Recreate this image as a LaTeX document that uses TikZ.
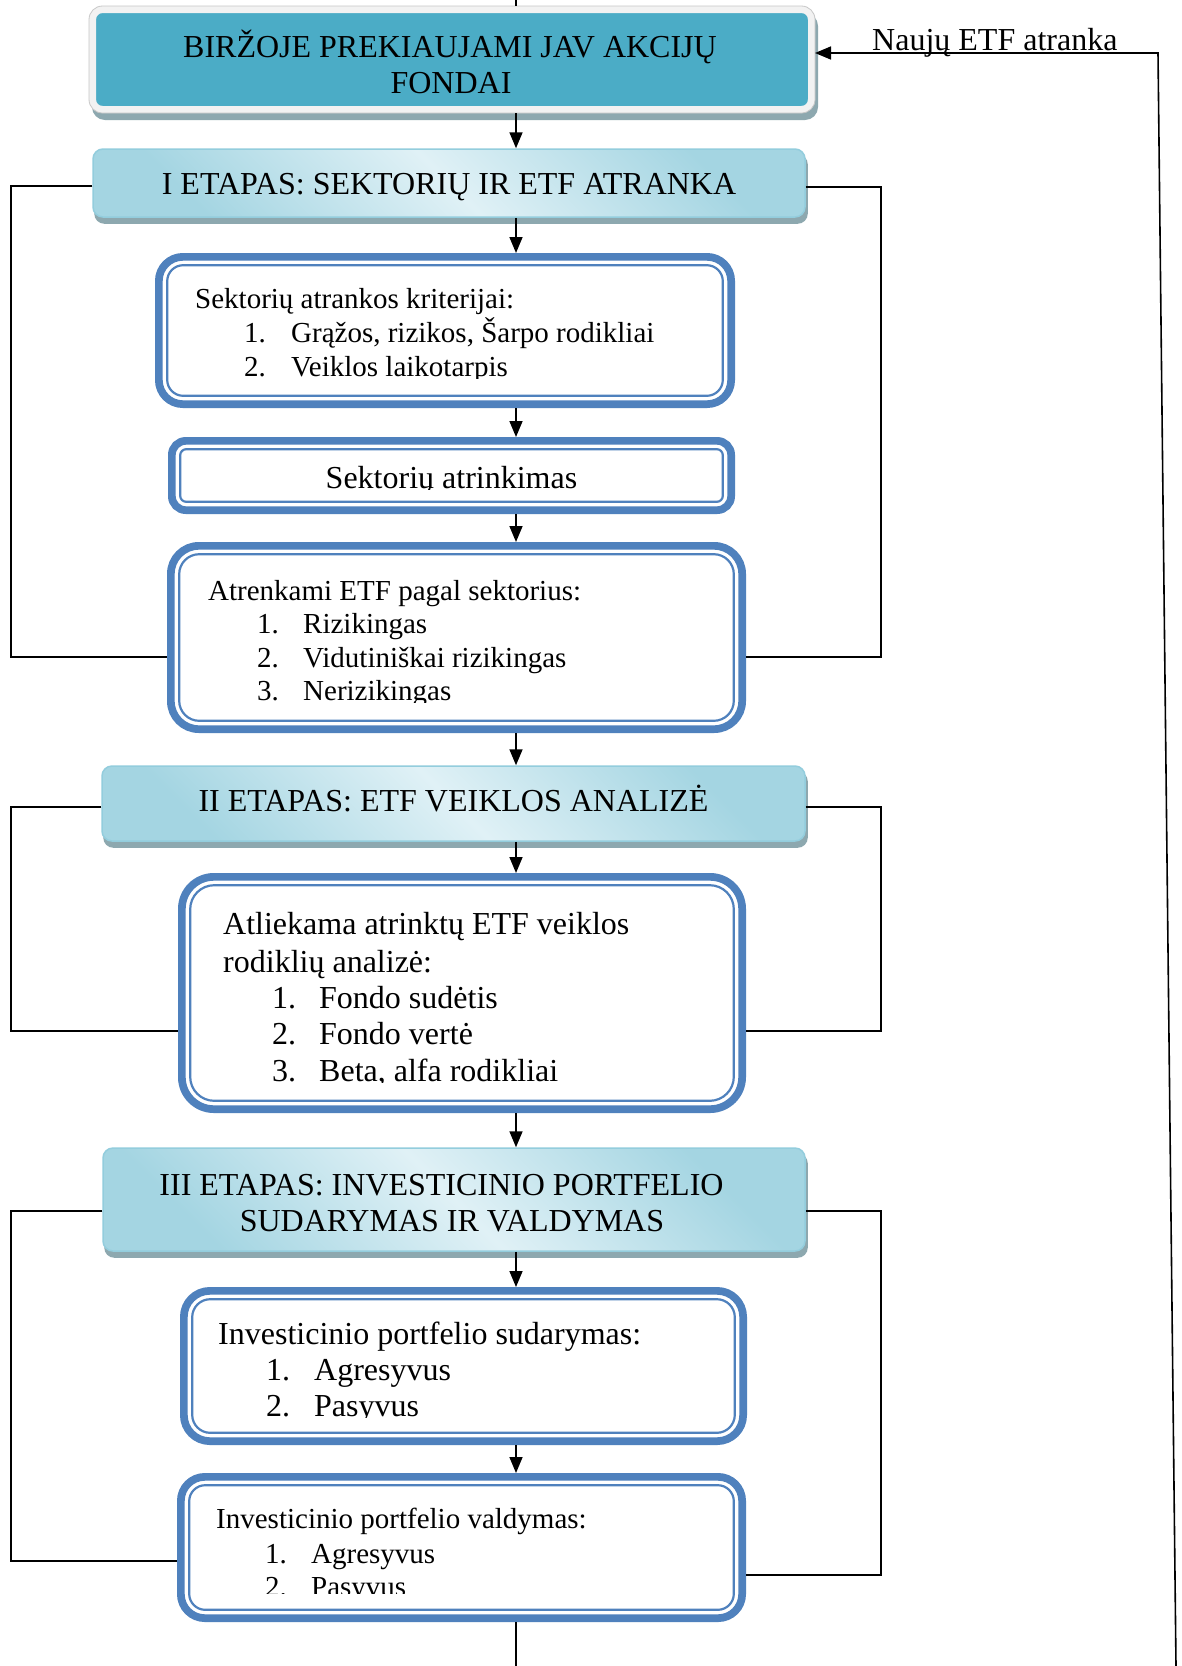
\documentclass[tikz,border=0pt]{standalone}
\usepackage{fontspec}
\setmainfont{Liberation Serif}
\usetikzlibrary{arrows.meta,backgrounds}
\definecolor{tealA}{HTML}{4BACC6}
\definecolor{lightB}{HTML}{F2F2F2}
\definecolor{shadC}{HTML}{8DA8AF}
\definecolor{stDark}{HTML}{A4D5E2}
\definecolor{stLight}{HTML}{E0F1F6}
\definecolor{stBorder}{HTML}{93CDDD}
\definecolor{dBlue}{HTML}{4F81BD}
\newcommand\fbigsz{\fontsize{32}{38}\selectfont}
\newcommand\fmidsz{\fontsize{29}{34}\selectfont}
\begin{document}
\begin{tikzpicture}[x=1pt,y=-1pt,
  conn/.style={line width=1.6pt,black},
  arr/.style={conn,-{Triangle[length=16pt,width=13pt]}},
  topbox/.style={fill=tealA,draw=lightB,line width=7pt,rounded corners=10pt,inner sep=0pt},
  stage/.style={top color=stDark,bottom color=stDark,middle color=stLight,shading angle=-45,draw=stBorder,line width=1.5pt,rounded corners=10pt,inner sep=0pt},
  dbox/.style={draw=dBlue,fill=white,line width=7.7pt,rounded corners=#1,inner sep=0pt},
  dthin/.style={draw=dBlue,line width=2.2pt,rounded corners=#1},
  txt/.style={inner sep=0pt,anchor=base west,font=\fbigsz},
  txtm/.style={inner sep=0pt,anchor=base west,font=\fmidsz},
  ctxt/.style={inner sep=0pt,anchor=base,font=\fbigsz},
  shadowbox/.style={fill=shadC,rounded corners=10pt}
]
\useasboundingbox (0,0) rectangle (1182,1666);

% boxes
\node[topbox,minimum width=719pt,minimum height=100pt] (top) at (452,59.5) {};
\draw[draw=black!22,line width=0.8pt,rounded corners=13.5pt] (top.south west) rectangle (top.north east);
\node[stage,minimum width=712pt,minimum height=68pt] (s1) at (449,183) {};
\node[stage,minimum width=703pt,minimum height=75pt] (s2) at (453.5,803.5) {};
\node[stage,minimum width=702pt,minimum height=103pt] (s3) at (454,1199.5) {};

\node[dbox=24pt,minimum width=572.3pt,minimum height=147.3pt] (b1) at (445,330.5) {};
\node[dbox=14pt,minimum width=559.3pt,minimum height=69.3pt] (b2) at (451.5,475.5) {};
\node[dbox=28pt,minimum width=571.3pt,minimum height=183.3pt] (b3) at (456.5,637.5) {};
\node[dbox=32pt,minimum width=560.3pt,minimum height=232.3pt] (b4) at (462,993) {};
\node[dbox=26pt,minimum width=559.3pt,minimum height=150.3pt] (b5) at (463.5,1366) {};
\node[dbox=24pt,minimum width=561.3pt,minimum height=141.3pt] (b6) at (461.5,1547.5) {};

\draw[dthin=16pt] ([shift={(12.2pt,-12.2pt)}]b1.north west) rectangle ([shift={(-12.2pt,12.2pt)}]b1.south east);
\draw[dthin=6pt] ([shift={(12.2pt,-12.2pt)}]b2.north west) rectangle ([shift={(-12.2pt,12.2pt)}]b2.south east);
\draw[dthin=20pt] ([shift={(12.2pt,-12.2pt)}]b3.north west) rectangle ([shift={(-12.2pt,12.2pt)}]b3.south east);
\draw[dthin=24pt] ([shift={(12.2pt,-12.2pt)}]b4.north west) rectangle ([shift={(-12.2pt,12.2pt)}]b4.south east);
\draw[dthin=18pt] ([shift={(12.2pt,-12.2pt)}]b5.north west) rectangle ([shift={(-12.2pt,12.2pt)}]b5.south east);
\draw[dthin=16pt] ([shift={(12.2pt,-12.2pt)}]b6.north west) rectangle ([shift={(-12.2pt,12.2pt)}]b6.south east);

% background and shadows
\begin{scope}[on background layer]
\fill[white] (0,0) rectangle (1182,1666);
\fill[shadowbox,rounded corners=13pt] ([shift={(3pt,-7pt)}]top.south west) rectangle ([shift={(3pt,-7pt)}]top.north east);
\fill[shadowbox] ([shift={(2pt,-6pt)}]s1.south west) rectangle ([shift={(2pt,-6pt)}]s1.north east);
\fill[shadowbox] ([shift={(2pt,-6pt)}]s2.south west) rectangle ([shift={(2pt,-6pt)}]s2.north east);
\fill[shadowbox] ([shift={(2pt,-6pt)}]s3.south west) rectangle ([shift={(2pt,-6pt)}]s3.north east);
\end{scope}

% main connectors
\coordinate (X0) at (516,0);
\coordinate (X1) at (516,1666);
\draw[conn] (X0) -- (top.north -| X0);
\draw[arr] (top.south -| X0) -- (s1.north -| X0);
\draw[arr] (s1.south -| X0) -- (b1.north -| X0);
\draw[arr] (b1.south -| X0) -- (b2.north -| X0);
\draw[arr] (b2.south -| X0) -- (b3.north -| X0);
\draw[arr] (b3.south -| X0) -- (s2.north -| X0);
\draw[arr] (s2.south -| X0) -- (b4.north -| X0);
\draw[arr] (b4.south -| X0) -- (s3.north -| X0);
\draw[arr] (s3.south -| X0) -- (b5.north -| X0);
\draw[arr] (b5.south -| X0) -- (b6.north -| X0);
\draw[conn] (b6.south -| X0) -- (X1);

% side brackets
\coordinate (L1a) at (11,186);  \coordinate (L1b) at (11,657);
\coordinate (R1a) at (881,187); \coordinate (R1b) at (881,657);
\coordinate (L2a) at (11,807);  \coordinate (L2b) at (11,1031);
\coordinate (R2a) at (881,807); \coordinate (R2b) at (881,1031);
\coordinate (L3a) at (11,1211); \coordinate (L3b) at (11,1561);
\coordinate (R3a) at (881,1211);\coordinate (R3b) at (881,1575);
\draw[conn] (s1.west |- L1a) -- (L1a) -- (L1b) -- (b3.west |- L1b);
\draw[conn] (s1.east |- R1a) -- (R1a) -- (R1b) -- (b3.east |- R1b);
\draw[conn] (s2.west |- L2a) -- (L2a) -- (L2b) -- (b4.west |- L2b);
\draw[conn] (s2.east |- R2a) -- (R2a) -- (R2b) -- (b4.east |- R2b);
\draw[conn] (s3.west |- L3a) -- (L3a) -- (L3b) -- (b6.west |- L3b);
\draw[conn] (s3.east |- R3a) -- (R3a) -- (R3b) -- (b6.east |- R3b);

% feedback loop
\coordinate (F1) at (1176,1666);
\coordinate (F2) at (1158,53);
\draw[arr] (F1) -- (F2) -- (top.east |- F2);
\node[txt] (lbl) at (872,50) {Naujų ETF atranka};

% texts
\node[ctxt] (t0a) at (450,57) {BIRŽOJE PREKIAUJAMI JAV AKCIJŲ};
\node[ctxt] (t0b) at (451,93) {FONDAI};
\node[ctxt] (t1) at (449,194) {I ETAPAS: SEKTORIŲ IR ETF ATRANKA};

\begin{scope}
\clip (150,250) rectangle (740,378);
\node[txtm] (t11) at (195,308) {Sektorių atrankos kriterijai:};
\node[txtm] (t12n) at (244,342) {1.};
\node[txtm] (t12) at (291,342) {Grąžos, rizikos, Šarpo rodikliai};
\node[txtm] (t13n) at (244,376) {2.};
\node[txtm] (t13) at (291,376) {Veiklos laikotarpis};
\end{scope}

\begin{scope}
\clip (160,435) rectangle (740,489);
\node[ctxt] (t2) at (451.5,488) {Sektorių atrinkimas};
\end{scope}

\begin{scope}
\clip (160,540) rectangle (750,702);
\node[txtm] (t31) at (208,600) {Atrenkami ETF pagal sektorius:};
\node[txtm] (t32n) at (257,633) {1.};
\node[txtm] (t32) at (303,633) {Rizikingas};
\node[txtm] (t33n) at (257,667) {2.};
\node[txtm] (t33) at (303,667) {Vidutiniškai rizikingas};
\node[txtm] (t34n) at (257,700) {3.};
\node[txtm] (t34) at (303,700) {Nerizikingas};
\end{scope}

\node[ctxt] (t4) at (453.5,811) {II ETAPAS: ETF VEIKLOS ANALIZĖ};

\begin{scope}
\clip (170,870) rectangle (750,1082);
\node[txt] (t51) at (223,934) {Atliekama atrinktų ETF veiklos};
\node[txt] (t52) at (223,972) {rodiklių analizė:};
\node[txt] (t53n) at (272,1008) {1.};
\node[txt] (t53) at (319,1008) {Fondo sudėtis};
\node[txt] (t54n) at (272,1044) {2.};
\node[txt] (t54) at (319,1044) {Fondo vertė};
\node[txt] (t55n) at (272,1081) {3.};
\node[txt] (t55) at (319,1081) {Beta, alfa rodikliai};
\end{scope}

\node[ctxt] (t6a) at (441.5,1195) {III ETAPAS: INVESTICINIO PORTFELIO};
\node[ctxt] (t6b) at (452,1231) {SUDARYMAS IR VALDYMAS};

\begin{scope}
\clip (170,1285) rectangle (750,1417);
\node[txt] (t71) at (218,1344) {Investicinio portfelio sudarymas:};
\node[txt] (t72n) at (266,1380) {1.};
\node[txt] (t72) at (314,1380) {Agresyvus};
\node[txt] (t73n) at (266,1416) {2.};
\node[txt] (t73) at (314,1416) {Pasyvus};
\end{scope}

\begin{scope}
\clip (170,1470) rectangle (750,1593);
\node[txtm] (t81) at (216,1528) {Investicinio portfelio valdymas:};
\node[txtm] (t82n) at (265,1563) {1.};
\node[txtm] (t82) at (311,1563) {Agresyvus};
\node[txtm] (t83n) at (265,1596) {2.};
\node[txtm] (t83) at (311,1596) {Pasyvus};
\end{scope}
\end{tikzpicture}
\end{document}
